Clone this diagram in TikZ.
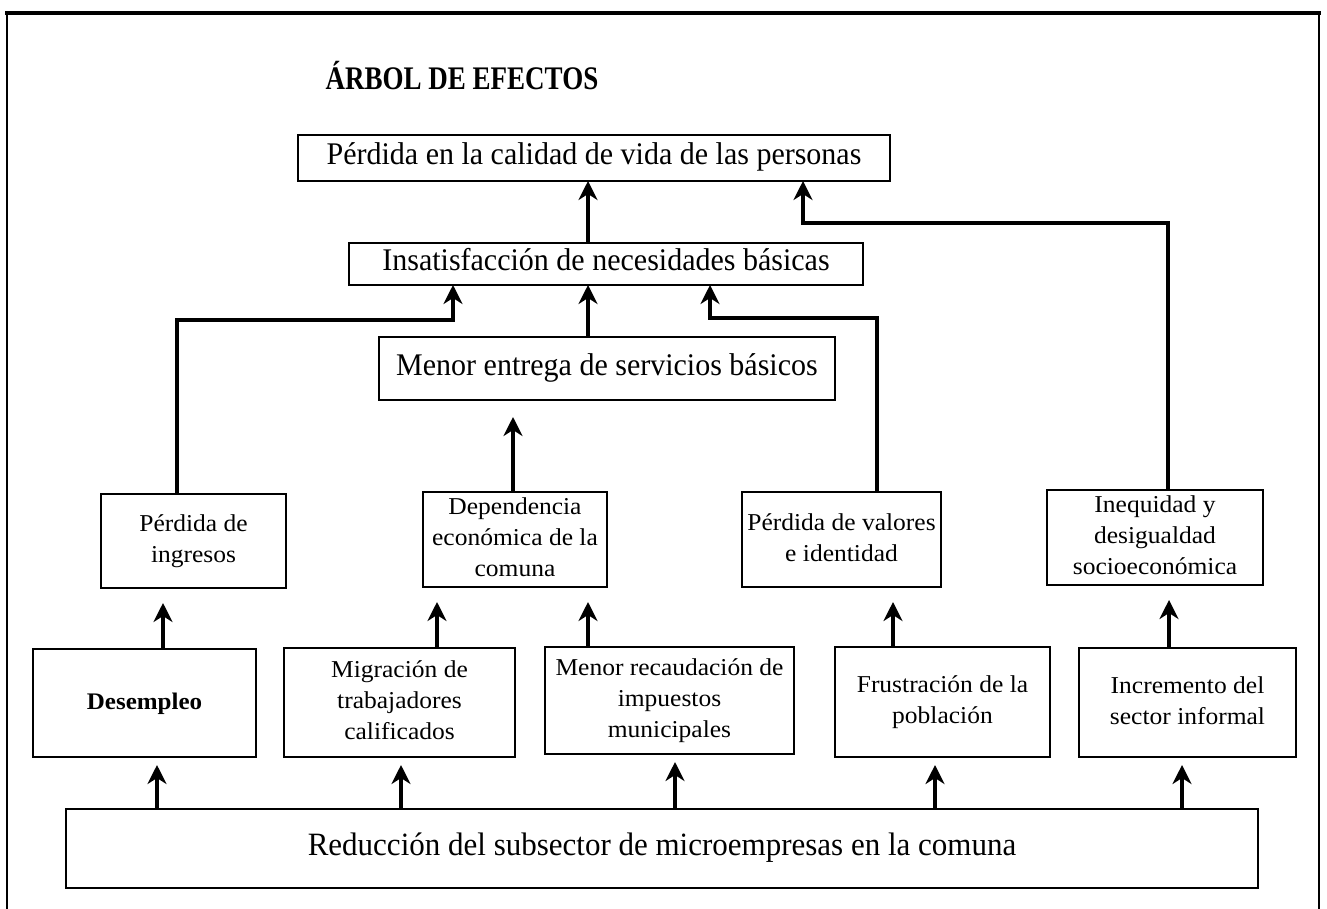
\documentclass[tikz,border=0pt]{standalone}
\usepackage{fontspec}
\usepackage{graphicx}
\setmainfont{Liberation Serif}
\usetikzlibrary{arrows.meta,calc}
\newcommand\vs[1]{\scalebox{1}[1.05]{\begin{tabular}{@{}c@{}}#1\end{tabular}}}
\newcommand\vt[1]{\scalebox{1}[0.95]{\begin{tabular}{@{}c@{}}#1\end{tabular}}}
\begin{document}
\begin{tikzpicture}[x=1pt,y=-1pt,
  box/.style={draw, line width=2.2pt, inner sep=0pt, outer sep=0pt},
  big/.style={font=\fontsize{30}{32}\selectfont},
  small/.style={font=\fontsize{25.5}{32.6}\selectfont},
  arr/.style={line width=3.8pt, line join=miter, -{Stealth[length=19pt,width=19pt,inset=6pt]}},
  gapE/.style={shorten >=8pt},
  gapD/.style={shorten >=15pt},
]
\useasboundingbox (0,0) rectangle (1327,909);
\fill[white] (0,0) rectangle (1327,909);
% frame
\draw[line width=2.2pt] (7,909) -- (7,13) -- (1319,13) -- (1319,909);
\draw[line width=3.5pt] (5,13) -- (1321,13);

\node[font=\fontsize{27}{32}\selectfont\bfseries] (title) at (462,76) {\scalebox{1}[1.22]{ÁRBOL DE EFECTOS}};

% boxes
\node[box,big,minimum width=592pt,minimum height=46pt] (A) at (594,158) {\vs{Pérdida en la calidad de vida de las personas}};
\node[box,big,minimum width=514pt,minimum height=42pt] (B) at (606,264) {\vs{Insatisfacción de necesidades básicas}};
\node[box,big,minimum width=456pt,minimum height=63pt] (C) at (607,368.5) {\vs{Menor entrega de servicios básicos}};

\node[box,small,minimum width=185pt,minimum height=94pt] (D1) at (193.5,541) {\vt{Pérdida de\\ingresos}};
\node[box,small,minimum width=184pt,minimum height=95pt] (D2) at (515,539.5) {\vt{Dependencia\\económica de la\\comuna}};
\node[box,small,minimum width=199pt,minimum height=95pt] (D3) at (841.5,539.5) {\vt{Pérdida de valores\\e identidad}};
\node[box,small,minimum width=216pt,minimum height=95pt] (D4) at (1155,537.5) {\vt{Inequidad y\\desigualdad\\socioeconómica}};

\node[box,font=\fontsize{25}{32.6}\selectfont\bfseries,minimum width=223pt,minimum height=108pt] (E1) at (144.5,703) {\vt{Desempleo}};
\node[box,small,minimum width=231pt,minimum height=109pt] (E2) at (399.5,702.5) {\vt{Migración de\\trabajadores\\calificados}};
\node[box,small,minimum width=249pt,minimum height=107pt] (E3) at (669.5,700.5) {\vt{Menor recaudación de\\impuestos\\municipales}};
\node[box,small,minimum width=215pt,minimum height=110pt] (E4) at (942.5,702) {\vt{Frustración de la\\población}};
\node[box,small,minimum width=217pt,minimum height=109pt] (E5) at (1187.5,702.5) {\vt{Incremento del\\sector informal}};

\node[box,font=\fontsize{31}{32}\selectfont,minimum width=1192pt,minimum height=79pt] (F) at (662,848.5) {\vs{Reducción del subsector de microempresas en la comuna}};

% x positions of connectors
\path (157,0) coordinate (fa) (401,0) coordinate (fb) (675,0) coordinate (fc)
      (935,0) coordinate (fd) (1182,0) coordinate (fe)
      (163,0) coordinate (ea) (437,0) coordinate (eb) (588,0) coordinate (ec)
      (893,0) coordinate (ed) (1169,0) coordinate (ee)
      (513,0) coordinate (dc) (177,0) coordinate (dl) (453,320) coordinate (bl)
      (877,0) coordinate (dr) (710,318) coordinate (br)
      (1168,0) coordinate (di) (803,223) coordinate (ai)
      (588,0) coordinate (mid);

% F -> E
\draw[arr,gapE] (F.north -| fa) -- (E1.south -| fa);
\draw[arr,gapE] (F.north -| fb) -- (E2.south -| fb);
\draw[arr,gapE] (F.north -| fc) -- (E3.south -| fc);
\draw[arr,gapE] (F.north -| fd) -- (E4.south -| fd);
\draw[arr,gapE] (F.north -| fe) -- (E5.south -| fe);
% E -> D
\draw[arr,gapD] (E1.north -| ea) -- (D1.south -| ea);
\draw[arr,gapD] (E2.north -| eb) -- (D2.south -| eb);
\draw[arr,gapD] (E3.north -| ec) -- (D2.south -| ec);
\draw[arr,gapD] (E4.north -| ed) -- (D3.south -| ed);
\draw[arr,gapD] (E5.north -| ee) -- (D4.south -| ee);
% D2 -> C
\draw[arr,shorten >=17pt] (D2.north -| dc) -- (C.south -| dc);
% D1 -> B, D3 -> B, C -> B
\draw[arr] (D1.north -| dl) |- (bl) -- (B.south -| bl);
\draw[arr] (D3.north -| dr) |- (br) -- (B.south -| br);
\draw[arr] (C.north -| mid) -- (B.south -| mid);
% B -> A, D4 -> A
\draw[arr] (B.north -| mid) -- (A.south -| mid);
\draw[arr] (D4.north -| di) |- (ai) -- (A.south -| ai);
\end{tikzpicture}
\end{document}
